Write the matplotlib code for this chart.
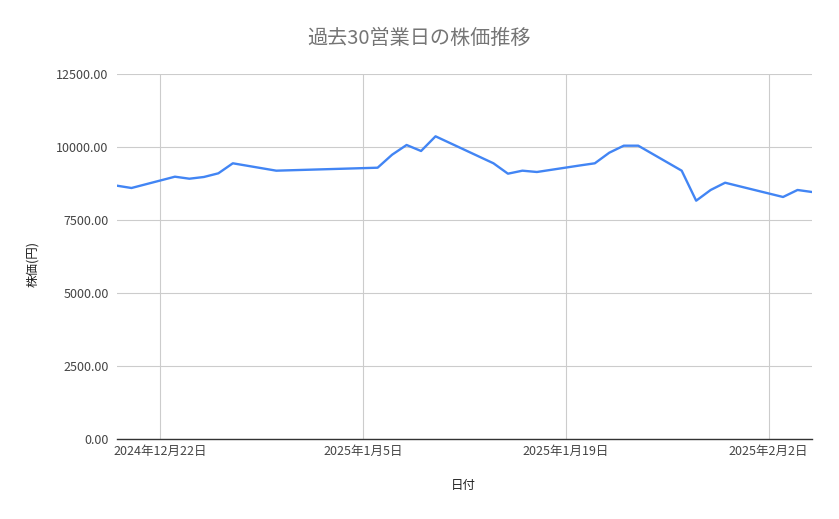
import matplotlib
matplotlib.use("Agg")
import matplotlib.pyplot as plt
import pandas as pd

plt.rcParams['font.family'] = ['Noto Sans CJK JP', 'DejaVu Sans']

dates = ["2024-12-19", "2024-12-20", "2024-12-23", "2024-12-24", "2024-12-25",
         "2024-12-26", "2024-12-27", "2024-12-30", "2025-01-06", "2025-01-07",
         "2025-01-08", "2025-01-09", "2025-01-10", "2025-01-14", "2025-01-15",
         "2025-01-16", "2025-01-17", "2025-01-20", "2025-01-21", "2025-01-22",
         "2025-01-23", "2025-01-24", "2025-01-27", "2025-01-28", "2025-01-29",
         "2025-01-30", "2025-01-31", "2025-02-03", "2025-02-04", "2025-02-05"]
prices = [8675, 8596, 8983, 8914, 8973, 9099, 9442, 9189, 9291, 9736,
          10069, 9863, 10366, 9442, 9086, 9189, 9144, 9370, 9442, 9805,
          10045, 10045, 9189, 8161, 8528, 8777, 8654, 8288, 8528, 8459]
xticks = ["2024-12-22", "2025-01-05", "2025-01-19", "2025-02-02"]
xtick_labels = ["2024年12月22日", "2025年1月5日", "2025年1月19日", "2025年2月2日"]
yticks = [0, 2500, 5000, 7500, 10000, 12500]

x = pd.to_datetime(dates)

fig = plt.figure(figsize=(8.39, 5.19), dpi=100)
ax = fig.add_axes([117/839, 1-439/519, (812-117)/839, (439-74)/519])

ax.plot(x, prices, color='#4285F4', linewidth=1.7, solid_joinstyle='round')

ax.set_ylim(0, 12500)
ax.set_yticks(yticks)
ax.set_yticklabels([f"{v:.2f}" for v in yticks])
ax.set_xlim(pd.Timestamp("2024-12-19"), pd.Timestamp("2025-02-05"))
ax.set_xticks(pd.to_datetime(xticks))
ax.set_xticklabels(xtick_labels)

ax.grid(True, color='#cccccc', linewidth=0.8)
ax.set_axisbelow(True)
for s in ['top', 'right', 'left']:
    ax.spines[s].set_visible(False)
ax.spines['bottom'].set_color('#333333')
ax.spines['bottom'].set_linewidth(1.0)
ax.tick_params(axis='both', length=0, labelsize=9, colors='#444444')
ax.tick_params(axis='y', pad=6)
ax.tick_params(axis='x', pad=4)

fig.text(0.5, 1 - 38/519, "過去30営業日の株価推移", fontsize=14.5, color='#757575',
         ha='center', va='center')
ax.set_xlabel("日付", fontsize=9, color='#222222')
ax.xaxis.set_label_coords((463 - 117) / 695, (439 - 486) / 365)
ax.set_ylabel("株価(円)", fontsize=9, color='#222222')
ax.yaxis.set_label_coords((33 - 117) / 695, (439 - 264) / 365)
ax.xaxis.label.set_va('center')
ax.yaxis.label.set_va('center')

fig.savefig("out.png", dpi=100)
